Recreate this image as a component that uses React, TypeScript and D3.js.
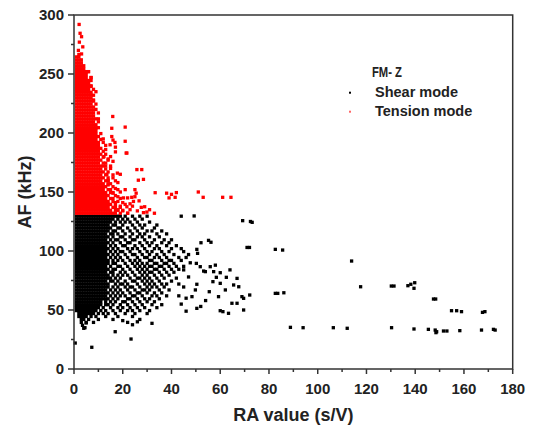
import React from 'react';
import * as d3 from 'd3';

const xTicks = [0, 20, 40, 60, 80, 100, 120, 140, 160, 180];
const xMinorTicks = [10, 30, 50, 70, 90, 110, 130, 150, 170];
const yTicks = [0, 50, 100, 150, 200, 250, 300];
const yMinorTicks = [25, 75, 125, 175, 225, 275];
const xTitle = 'RA value (s/V)';
const yTitle = 'AF (kHz)';
const legendTitle = 'FM- Z';
const seriesNames = ['Shear mode', 'Tension mode'];
const seriesColors = ['#000000', '#ff0000'];

// Tension mode (red): rows of [AF, RA values...]
const tensionRows: [number, number[]][] = [
  [132, [1, 2, 3, 4, 5, 6, 7, 8, 9, 10, 11, 12, 13, 14, 15, 16, 17, 19, 22]],
  [134.5, [1, 2, 3, 4, 5, 6, 7, 8, 9, 10, 11, 12, 13, 14, 15, 17, 18, 20]],
  [137, [1, 2, 3, 4, 5, 6, 7, 8, 9, 10, 11, 12, 13, 14, 16, 17, 19]],
  [139.5, [1, 2, 3, 4, 5, 6, 7, 8, 9, 10, 11, 12, 13, 14, 15, 17, 21]],
  [142, [1, 2, 3, 4, 5, 6, 7, 8, 9, 10, 11, 12, 13, 14, 16, 18]],
  [144.5, [1, 2, 3, 4, 5, 6, 7, 8, 9, 10, 11, 12, 13, 15, 16, 19]],
  [147, [1, 2, 3, 4, 5, 6, 7, 8, 9, 10, 11, 12, 13, 14, 17]],
  [149.5, [1, 2, 3, 4, 5, 6, 7, 8, 9, 10, 11, 12, 13, 15, 16]],
  [152, [1, 2, 3, 4, 5, 6, 7, 8, 9, 10, 11, 12, 14, 15, 18]],
  [154.5, [1, 2, 3, 4, 5, 6, 7, 8, 9, 10, 11, 12, 13, 16]],
  [157, [1, 2, 3, 4, 5, 6, 7, 8, 9, 10, 11, 12, 14, 15]],
  [159.5, [1, 2, 3, 4, 5, 6, 7, 8, 9, 10, 11, 13, 14, 17]],
  [162, [1, 2, 3, 4, 5, 6, 7, 8, 9, 10, 11, 12, 14]],
  [164.5, [1, 2, 3, 4, 5, 6, 7, 8, 9, 10, 11, 13, 16]],
  [167, [1, 2, 3, 4, 5, 6, 7, 8, 9, 10, 11, 12, 14]],
  [169.5, [1, 2, 3, 4, 5, 6, 7, 8, 9, 10, 11, 13]],
  [172, [1, 2, 3, 4, 5, 6, 7, 8, 9, 10, 11, 12, 15]],
  [174.5, [1, 2, 3, 4, 5, 6, 7, 8, 9, 10, 12, 13]],
  [177, [1, 2, 3, 4, 5, 6, 7, 8, 9, 10, 11, 14]],
  [179.5, [1, 2, 3, 4, 5, 6, 7, 8, 9, 10, 12]],
  [182, [1, 2, 3, 4, 5, 6, 7, 8, 9, 10, 11, 13]],
  [184.5, [1, 2, 3, 4, 5, 6, 7, 8, 9, 10, 12]],
  [187, [1, 2, 3, 4, 5, 6, 7, 8, 9, 10, 11]],
  [189.5, [1, 2, 3, 4, 5, 6, 7, 8, 9, 10, 13]],
  [192, [1, 2, 3, 4, 5, 6, 7, 8, 9, 10, 12]],
  [194.5, [1, 2, 3, 4, 5, 6, 7, 8, 9, 11]],
  [197, [1, 2, 3, 4, 5, 6, 7, 8, 9, 10]],
  [199.5, [1, 2, 3, 4, 5, 6, 7, 8, 9, 11]],
  [202, [1, 2, 3, 4, 5, 6, 7, 8, 9]],
  [204.5, [1, 2, 3, 4, 5, 6, 7, 8, 9, 10]],
  [207, [1, 2, 3, 4, 5, 6, 7, 8, 9]],
  [209.5, [1, 2, 3, 4, 5, 6, 7, 8, 10]],
  [212, [1, 2, 3, 4, 5, 6, 7, 8, 9]],
  [214.5, [1, 2, 3, 4, 5, 6, 7, 8]],
  [217, [1, 2, 3, 4, 5, 6, 7, 8, 10]],
  [219.5, [1, 2, 3, 4, 5, 6, 7, 8]],
  [222, [1, 2, 3, 4, 5, 6, 7, 8]],
  [224.5, [1, 2, 3, 4, 5, 6, 7, 9]],
  [227, [1, 2, 3, 4, 5, 6, 7, 8]],
  [229.5, [1, 2, 3, 4, 5, 6, 7]],
  [232, [1, 2, 3, 4, 5, 6, 7, 8]],
  [234.5, [1, 2, 3, 4, 5, 6, 7]],
  [237, [1, 2, 3, 4, 5, 6, 8]],
  [239.5, [1, 2, 3, 4, 5, 6, 7]],
  [242, [1, 2, 3, 4, 5, 6]],
  [244.5, [1, 2, 3, 4, 5, 6, 7]],
  [247, [1, 2, 3, 4, 5, 7]],
  [249.5, [1, 2, 3, 4, 5]],
  [252, [1, 2, 3, 4, 5, 6]],
  [254.5, [1, 2, 3, 4]],
  [257, [1, 2, 3, 4]],
  [259.5, [1, 2, 3]],
  [262, [1, 2, 3]],
  [264.5, [1, 2]],
];

// Tension mode scattered points [RA, AF]
const tensionSparse: [number, number][] = [
  [15.9, 214], [15.5, 204], [21, 205], [16, 194], [21, 193], [21.4, 183], [17, 188], [17, 184],
  [12, 195], [15.5, 197], [14.8, 190], [16.8, 192], [21.7, 183], [12.3, 180], [14, 178], [16, 176],
  [17.8, 166], [25.8, 169], [27.8, 169], [26.4, 160], [28.5, 160.7], [21, 152], [25, 152], [25.5, 149],
  [33.3, 149.4], [38, 149], [40, 148], [42, 149.5], [39, 145], [41.5, 145.5], [20.3, 145], [22, 145],
  [23.7, 145.5], [24.4, 142], [26.7, 142.5], [21.7, 137.5], [23, 135], [27.6, 137], [29, 137.5],
  [28.5, 132.5], [29.9, 133], [51, 150], [53, 145.5], [61, 145.5], [64.4, 145.5], [5.8, 252], [7, 247],
  [2.1, 292], [2.5, 284.5], [3.1, 281.6], [2.2, 277], [3.6, 273], [1.8, 270], [3.1, 267], [2, 266.5],
  [13, 172], [15, 170], [13.5, 165], [16, 162], [18, 158], [14, 156], [17, 153], [19, 150], [18, 146],
  [20, 141], [19, 138], [17, 141], [20, 134], [22, 132], [18, 135], [16, 149], [14, 160], [19, 165],
  [15, 180], [13, 186], [24, 138], [26, 134], [25, 146], [23, 140], [31, 135], [33, 132],
  [8, 228], [9, 220], [10, 212], [7, 240], [9, 235],
];

// Shear mode (black): rows of [AF, RA values...]
const shearRows: [number, number[]][] = [
  [129.5, [1, 2, 3, 4, 5, 6, 7, 8, 9, 10, 11, 12, 13, 14, 15, 16, 17, 18, 19, 21, 24, 27, 30, 44]],
  [127, [1, 2, 3, 4, 5, 6, 7, 8, 9, 10, 11, 12, 13, 14, 15, 16, 18, 20, 22, 25, 28]],
  [124.5, [1, 2, 3, 4, 5, 6, 7, 8, 9, 10, 11, 12, 13, 14, 15, 17, 19, 21, 23, 26, 31]],
  [122, [1, 2, 3, 4, 5, 6, 7, 8, 9, 10, 11, 12, 13, 14, 16, 17, 20, 24, 27, 29, 34]],
  [119.5, [1, 2, 3, 4, 5, 6, 7, 8, 9, 10, 11, 12, 13, 14, 15, 18, 19, 22, 25, 28, 33]],
  [117, [1, 2, 3, 4, 5, 6, 7, 8, 9, 10, 11, 12, 13, 14, 16, 17, 20, 23, 26, 30, 32, 36]],
  [114.5, [1, 2, 3, 4, 5, 6, 7, 8, 9, 10, 11, 12, 13, 15, 16, 18, 21, 24, 27, 29, 34, 38]],
  [112, [1, 2, 3, 4, 5, 6, 7, 8, 9, 10, 11, 12, 13, 14, 16, 19, 20, 23, 26, 28, 31, 35]],
  [109.5, [1, 2, 3, 4, 5, 6, 7, 8, 9, 10, 11, 12, 13, 15, 17, 18, 21, 24, 25, 29, 33, 37, 40]],
  [107, [1, 2, 3, 4, 5, 6, 7, 8, 9, 10, 11, 12, 13, 14, 16, 19, 22, 23, 27, 30, 32, 36, 39]],
  [104.5, [1, 2, 3, 4, 5, 6, 7, 8, 9, 10, 11, 12, 13, 15, 17, 20, 21, 25, 28, 31, 34, 38, 42]],
  [102, [1, 2, 3, 4, 5, 6, 7, 8, 9, 10, 11, 12, 13, 14, 16, 18, 22, 24, 26, 29, 33, 35, 40, 44]],
  [99.5, [1, 2, 3, 4, 5, 6, 7, 8, 9, 10, 11, 12, 13, 15, 17, 19, 20, 23, 27, 30, 32, 36, 39, 45]],
  [97, [1, 2, 3, 4, 5, 6, 7, 8, 9, 10, 11, 12, 13, 14, 16, 18, 21, 24, 25, 28, 31, 34, 37, 41, 47]],
  [94.5, [1, 2, 3, 4, 5, 6, 7, 8, 9, 10, 11, 12, 13, 15, 17, 19, 22, 26, 29, 30, 33, 35, 38, 43, 46]],
  [92, [1, 2, 3, 4, 5, 6, 7, 8, 9, 10, 11, 12, 13, 14, 16, 18, 20, 23, 25, 27, 31, 32, 36, 39, 40, 44]],
  [89.5, [1, 2, 3, 4, 5, 6, 7, 8, 9, 10, 11, 12, 13, 14, 16, 17, 21, 24, 26, 28, 30, 33, 34, 37, 38, 41]],
  [87, [1, 2, 3, 4, 5, 6, 7, 8, 9, 10, 11, 12, 13, 15, 18, 19, 22, 25, 27, 29, 31, 32, 35, 36, 39, 42, 45]],
  [84.5, [1, 2, 3, 4, 5, 6, 7, 8, 9, 10, 11, 12, 13, 14, 16, 17, 20, 23, 26, 28, 30, 33, 34, 37, 40, 43]],
  [82, [1, 2, 3, 4, 5, 6, 7, 8, 9, 10, 11, 12, 13, 15, 16, 19, 21, 24, 27, 29, 31, 32, 35, 38, 41]],
  [79.5, [1, 2, 3, 4, 5, 6, 7, 8, 9, 10, 11, 12, 13, 14, 16, 18, 20, 22, 25, 28, 30, 33, 36, 39]],
  [77, [1, 2, 3, 4, 5, 6, 7, 8, 9, 10, 11, 12, 13, 14, 15, 17, 19, 23, 26, 27, 29, 31, 34, 37, 42]],
  [74.5, [1, 2, 3, 4, 5, 6, 7, 8, 9, 10, 11, 12, 13, 15, 16, 18, 21, 24, 25, 28, 30, 32, 35, 40]],
  [72, [1, 2, 3, 4, 5, 6, 7, 8, 9, 10, 11, 12, 13, 14, 17, 19, 20, 22, 26, 29, 31, 33, 36, 38]],
  [69.5, [1, 2, 3, 4, 5, 6, 7, 8, 9, 10, 11, 12, 13, 14, 16, 18, 21, 23, 24, 27, 30, 32, 34, 37, 45]],
  [67, [1, 2, 3, 4, 5, 6, 7, 8, 9, 10, 11, 12, 13, 15, 17, 19, 22, 25, 28, 29, 31, 35, 39]],
  [64.5, [1, 2, 3, 4, 5, 6, 7, 8, 9, 10, 11, 12, 13, 14, 16, 18, 20, 23, 26, 27, 30, 33, 36]],
  [62, [1, 2, 3, 4, 5, 6, 7, 8, 9, 10, 11, 12, 13, 15, 17, 19, 21, 24, 25, 28, 32, 34, 38, 43]],
  [59.5, [1, 2, 3, 4, 5, 6, 7, 8, 9, 10, 11, 12, 13, 14, 16, 18, 22, 23, 26, 29, 31, 35]],
  [57, [1, 2, 3, 4, 5, 6, 7, 8, 9, 10, 11, 13, 15, 17, 20, 21, 24, 27, 30, 33]],
  [54.5, [1, 2, 3, 4, 5, 6, 7, 8, 9, 10, 11, 13, 14, 16, 19, 22, 25, 28, 32, 36]],
  [52, [1, 2, 3, 4, 5, 6, 7, 8, 9, 10, 12, 15, 18, 20, 23, 26, 29, 34]],
  [49.5, [1, 2, 3, 4, 5, 6, 7, 8, 9, 11, 13, 16, 19, 22, 24, 27, 31]],
  [47, [2, 3, 4, 5, 6, 7, 8, 10, 12, 14, 17, 21, 25, 30]],
  [44.5, [2, 3, 4, 5, 7, 9, 13, 18, 24]],
  [42, [3, 4, 6, 10, 16, 27]],
  [39.5, [3, 5, 8, 22]],
];

// Shear mode scattered points [RA, AF]
const shearSparse: [number, number][] = [
  [49.3, 129.7], [69.2, 125.7], [72.4, 125], [73.1, 124.3], [52.1, 107], [55.2, 109], [56.2, 107.4],
  [50.4, 101.4], [50.7, 98], [71, 103], [72, 103], [82.6, 101.4], [85.6, 100.8], [47.7, 90], [50.2, 89.5],
  [51.8, 86.7], [53.2, 83], [55.9, 86.7], [53.9, 82.5], [57.3, 82.5], [58.4, 77.7], [60, 81.6],
  [62.5, 77.7], [66.9, 76.8], [65.5, 71.2], [67.6, 69.7], [60, 72.6], [50.4, 71.8], [49.8, 67],
  [48.4, 61.3], [55.5, 65.5], [59.3, 61.3], [62.1, 67], [64.8, 55.7], [66.9, 55.7], [68.9, 61.3],
  [69.6, 59.9], [72.1, 62.7], [50.4, 51.4], [60, 49.4], [61.1, 48.6], [63.4, 47.2], [69.6, 50],
  [82.6, 64.1], [83.6, 64.1], [86.1, 64.6], [88.8, 35.3], [94, 35], [106.4, 35],
  [44, 55], [46, 60], [47, 78], [45, 84], [58, 88], [64, 84], [57, 74], [54, 58], [52, 53], [46, 49], [43, 72],
  [113.9, 91.5], [117.6, 69.7], [130.2, 70.3], [131.3, 70.3], [137, 70.6], [138.2, 71.8], [139.8, 73.1],
  [139.5, 68.4], [147.5, 59.3], [148.4, 59.3], [154.9, 49.4], [157, 49.4], [159, 48.6], [167.6, 48],
  [168.6, 48.6], [112.1, 34.5], [130.3, 35], [139.5, 33.9], [145.4, 33.6], [148.2, 33], [148.8, 31.6],
  [148.5, 30.8], [151.6, 32.2], [153, 32.2], [158.3, 32.5], [167.2, 33], [172.1, 33.6], [172.8, 33],
  [16.9, 31.6], [23.4, 25.4], [7.3, 18.4], [0.5, 22], [24, 37.5], [32, 38.7], [26, 40], [20, 41],
  [3.5, 37], [4.5, 35], [4, 34.5], [5, 39],
];

const FONT = "'Liberation Sans', Arial, Helvetica, sans-serif";
const AXIS = '#333333';

export default function App() {
  const W = 533;
  const H = 430;
  const x = d3.scaleLinear().domain([0, 180]).range([74, 512.7]);
  const y = d3.scaleLinear().domain([0, 300]).range([369, 15]);

  const shear: [number, number][] = shearRows
    .flatMap(([yv, xs]) => xs.map((xv) => [xv, yv] as [number, number]))
    .concat(shearSparse);
  const tension: [number, number][] = tensionRows
    .flatMap(([yv, xs]) => xs.map((xv) => [xv, yv] as [number, number]))
    .concat(tensionSparse);

  const ms = 3.3;
  const [x0, x1] = x.range();
  const [y0, y1] = y.range();

  return (
    <div style={{ position: 'absolute', left: 0, top: 0 }}>
      <svg width={W} height={H} style={{ display: 'block', background: '#fff' }} fontFamily={FONT}>
        <rect x={0} y={0} width={W} height={H} fill="#fff" />
        <g>
          {shear.map(([a, b], i) => (
            <rect key={'s' + i} x={x(a) - ms / 2} y={y(b) - ms / 2} width={ms} height={ms} fill={seriesColors[0]} />
          ))}
          {tension.map(([a, b], i) => (
            <rect key={'t' + i} x={x(a) - ms / 2} y={y(b) - ms / 2} width={ms} height={ms} fill={seriesColors[1]} />
          ))}
        </g>
        {/* frame */}
        <rect x={x0} y={y1} width={x1 - x0} height={y0 - y1} fill="none" stroke={AXIS} strokeWidth={1.5} />
        {/* x ticks */}
        {xTicks.map((t) => (
          <g key={'xt' + t}>
            <line x1={x(t)} x2={x(t)} y1={y0} y2={y0 + 5} stroke={AXIS} strokeWidth={1.5} />
            <text x={x(t)} y={393.5} textAnchor="middle" fontSize={15} fontWeight="bold" fill="#222">
              {t}
            </text>
          </g>
        ))}
        {xMinorTicks.map((t) => (
          <line key={'xm' + t} x1={x(t)} x2={x(t)} y1={y0} y2={y0 + 3} stroke={AXIS} strokeWidth={1.5} />
        ))}
        {yTicks.map((t) => (
          <g key={'yt' + t}>
            <line x1={x0 - 6} x2={x0} y1={y(t)} y2={y(t)} stroke={AXIS} strokeWidth={1.5} />
            <text x={64} y={y(t)} dy="0.36em" textAnchor="end" fontSize={15} fontWeight="bold" fill="#222">
              {t}
            </text>
          </g>
        ))}
        {yMinorTicks.map((t) => (
          <line key={'ym' + t} x1={x0 - 3} x2={x0} y1={y(t)} y2={y(t)} stroke={AXIS} strokeWidth={1.5} />
        ))}
        {/* axis titles */}
        <text x={(x0 + x1) / 2} y={421} textAnchor="middle" fontSize={18} fontWeight="bold" fill="#222">
          {xTitle}
        </text>
        <text
          transform={`translate(31,${(y0 + y1) / 2}) rotate(-90)`}
          textAnchor="middle"
          fontSize={18}
          fontWeight="bold"
          fill="#222"
        >
          {yTitle}
        </text>
        {/* legend */}
        <text x={372} y={77} fontSize={14} fontWeight="bold" fill="#222" textLength={30} lengthAdjust="spacingAndGlyphs">
          {legendTitle}
        </text>
        {seriesNames.map((n, i) => (
          <g key={n}>
            <rect x={349} y={91.7 + i * 19} width={2} height={2} fill={seriesColors[i]} opacity={i === 1 ? 0.6 : 1} />
            <text x={375} y={97 + i * 19} fontSize={14.5} fontWeight="bold" fill="#222">
              {n}
            </text>
          </g>
        ))}
      </svg>
    </div>
  );
}
